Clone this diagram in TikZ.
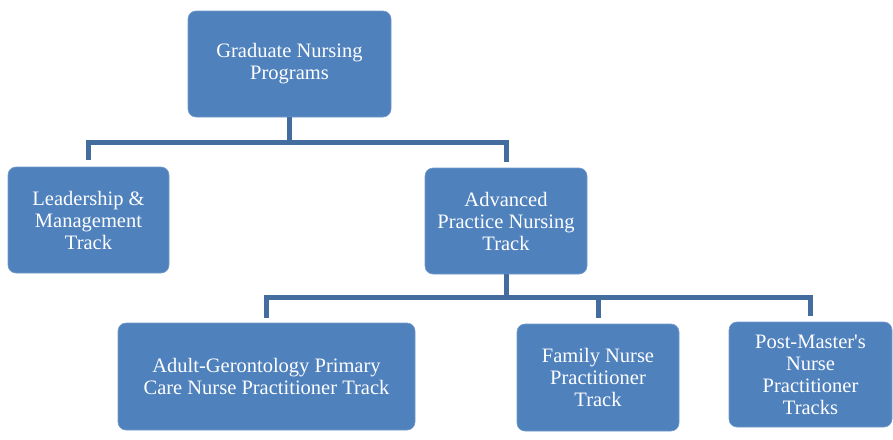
\documentclass[tikz,border=0pt]{standalone}
\usepackage{fontspec}
\setmainfont{Liberation Serif}
\newfontfamily\straightfont{Liberation Serif}
\definecolor{boxblue}{HTML}{4F81BD}
\definecolor{lineblue}{HTML}{436C9F}
\begin{document}
\begin{tikzpicture}[x=1pt,y=1pt,
  box/.style={draw=boxblue!80!white, line width=0.6pt, fill=boxblue, rounded corners=8pt,
    text=white, align=center, inner sep=0pt,
    font=\fontsize{20.5}{22}\selectfont},
  conn/.style={draw=lineblue, line width=5pt}]
\useasboundingbox (0,0) rectangle (893,-439);
% nodes
\node[box, minimum width=203, minimum height=106] (g)  at (289.5,-64)  {Graduate Nursing\\Programs};
\node[box, minimum width=161, minimum height=106] (l)  at (88.5,-220)  {Leadership \&\\Management\\Track};
\node[box, minimum width=162, minimum height=106] (a)  at (506,-221)   {Advanced\\Practice Nursing\\Track};
\node[box, minimum width=297, minimum height=107] (ad) at (266.5,-376.5) {Adult-Gerontology Primary\\Care Nurse Practitioner Track};
\node[box, minimum width=162, minimum height=107] (fa) at (598,-377.5) {Family Nurse\\Practitioner\\Track};
\node[box, minimum width=163, minimum height=105] (pm) at (810.5,-374.5) {\straightfont Post-Master's\\Nurse\\Practitioner\\Tracks};
% bar coordinates
\coordinate (bar1) at (289.5,-142);
\coordinate (bar2) at (506,-297);
% connectors
\draw[conn] (g.south) -- (bar1);
\draw[conn] ([yshift=7]l.north) |- (bar1) -| ([yshift=6]a.north);
\draw[conn] (a.south) -- (bar2);
\draw[conn] ([yshift=5]ad.north) |- (bar2) -| ([yshift=6]pm.north);
\draw[conn] ([yshift=6]fa.north) -- (fa.north |- bar2);
\end{tikzpicture}
\end{document}
